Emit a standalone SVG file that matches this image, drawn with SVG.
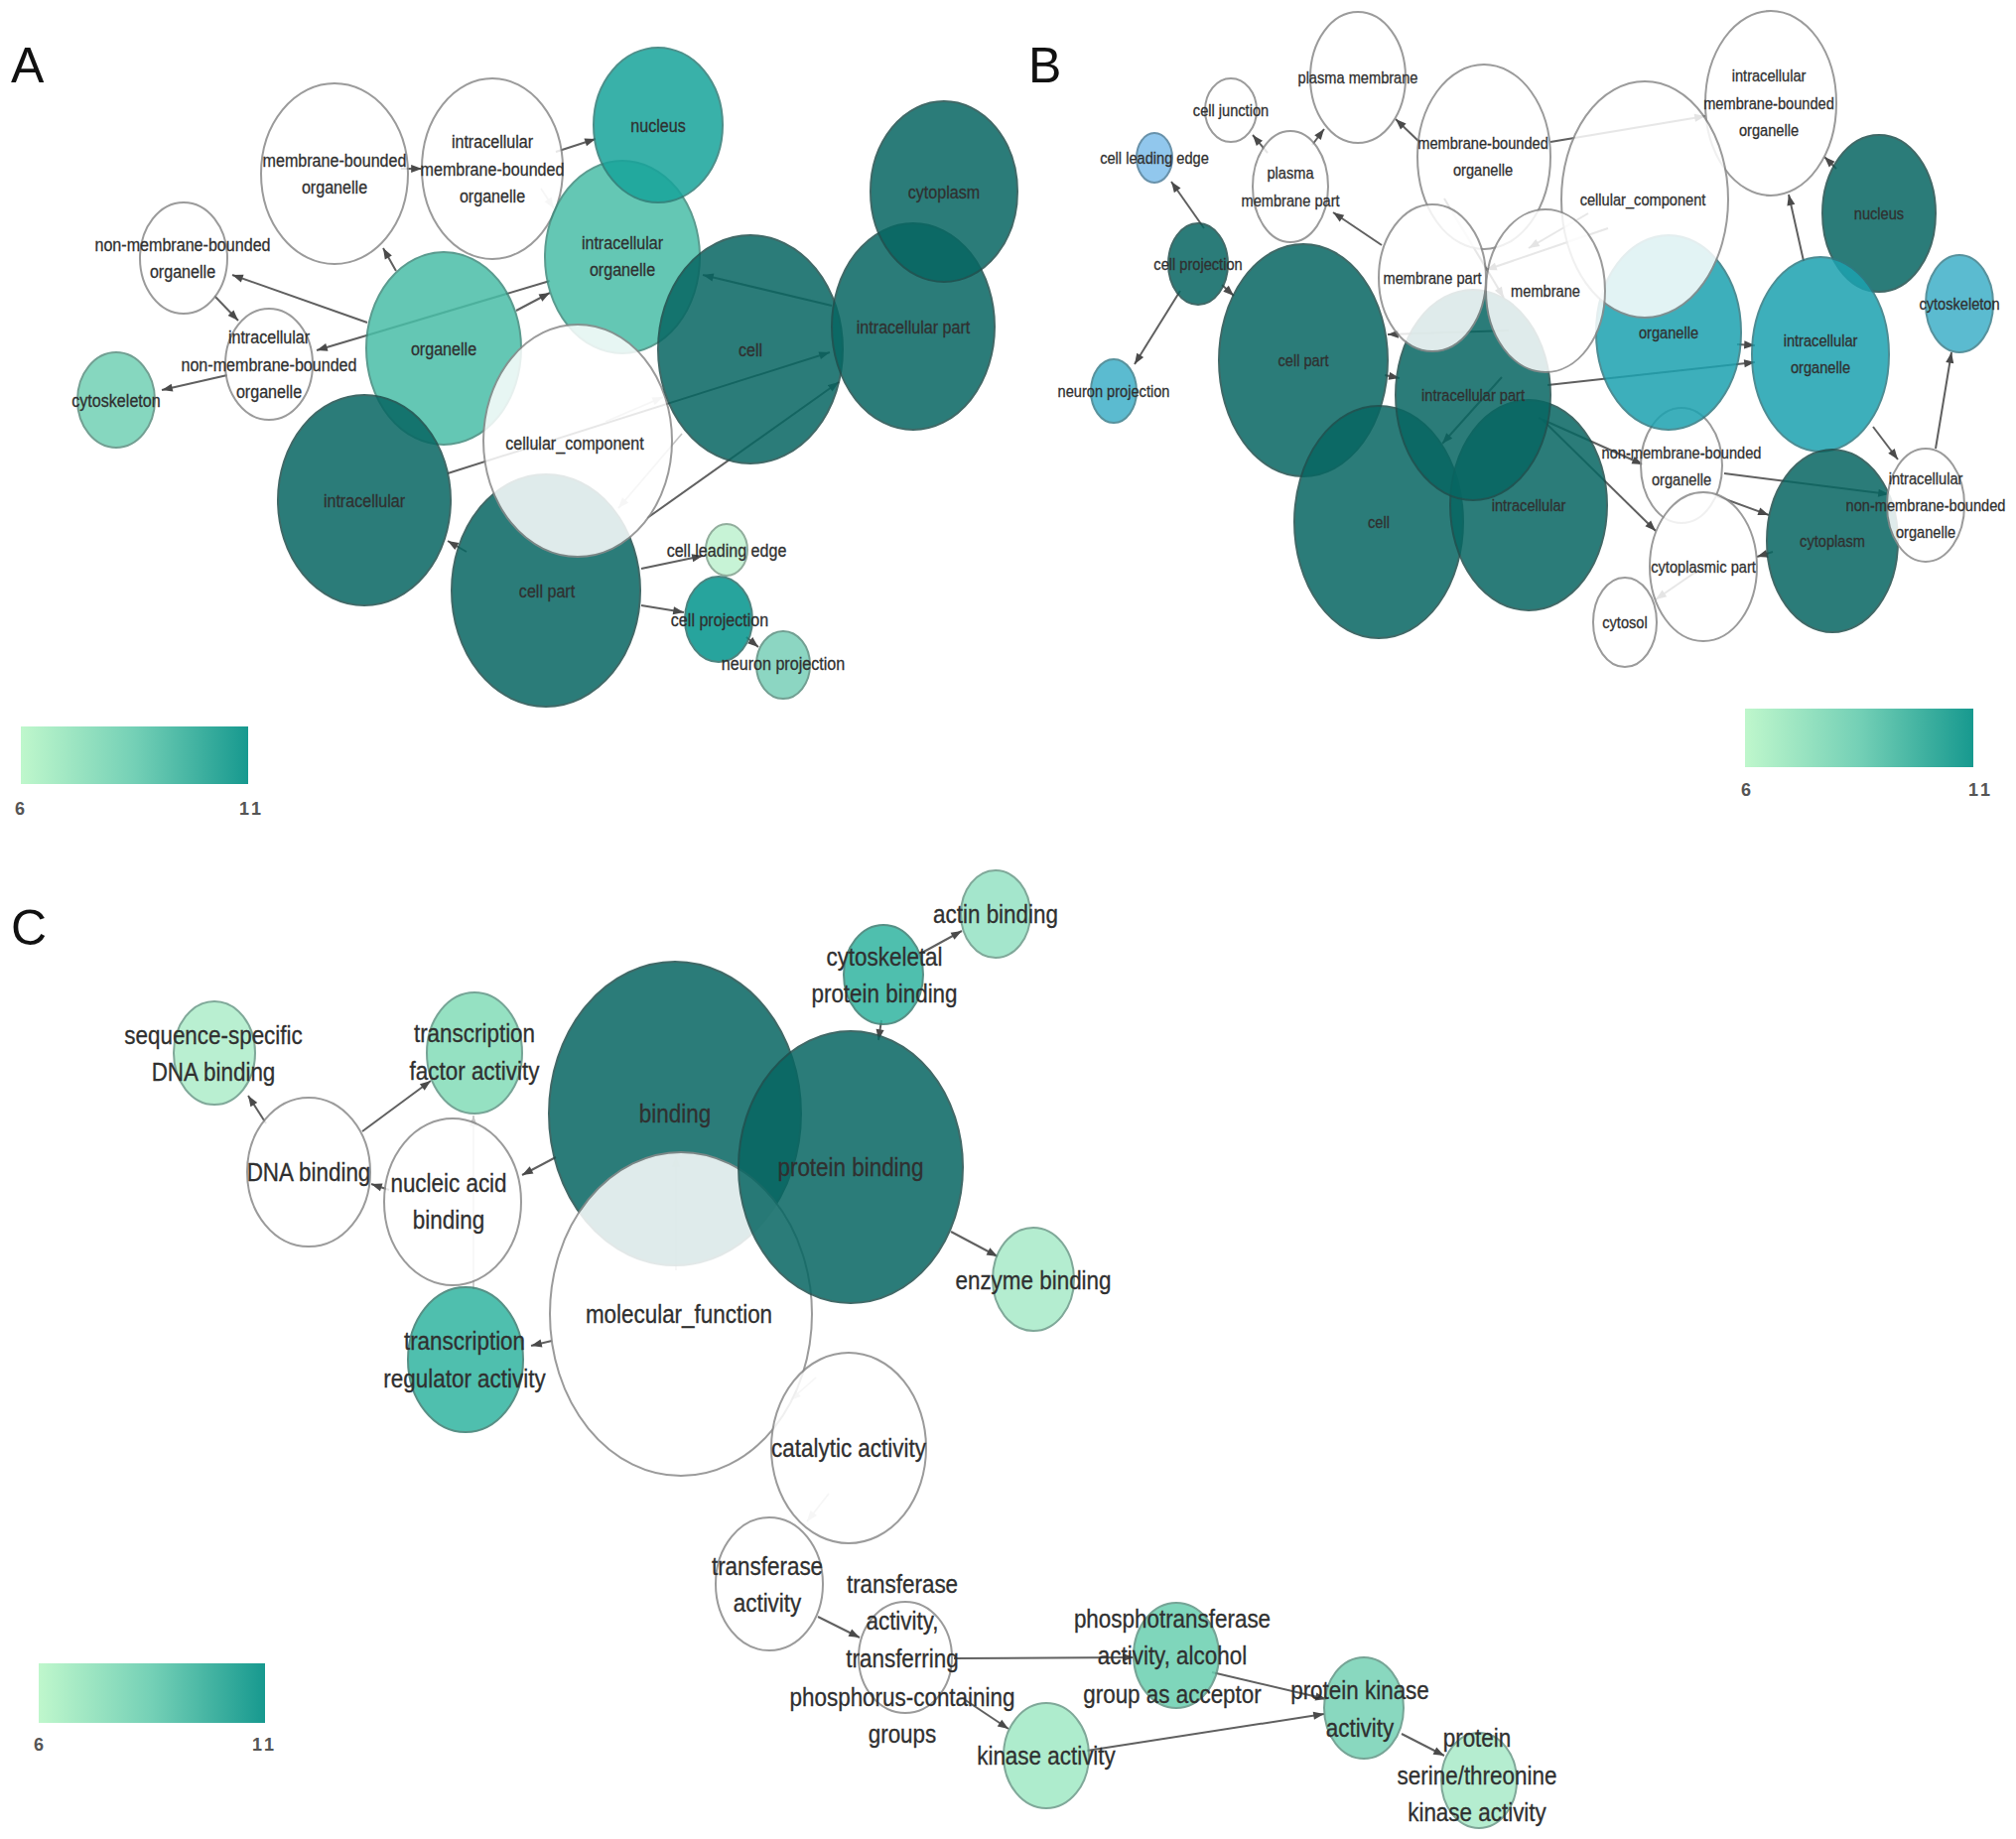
<svg xmlns="http://www.w3.org/2000/svg" width="2031" height="1853" viewBox="0 0 2031 1853">
<style>
text{font-family:"Liberation Sans",Arial,sans-serif;fill:#303030;stroke:#303030;stroke-width:0.3px;text-anchor:middle;transform-box:fill-box;transform-origin:center;}
.ta{font-size:18.5px;transform:scaleX(0.87);}
.tb{font-size:17px;transform:scaleX(0.86);}
.tc{font-size:25.5px;transform:scaleX(0.88);}
.pl{font-size:50px;fill:#111;stroke:none;text-anchor:start;}
.lg{font-size:18px;fill:#555;stroke:none;font-weight:bold;text-anchor:start;letter-spacing:3px;}
ellipse{opacity:0.85;stroke-width:2;}
.w{fill:#ffffff;stroke:#8a8a8a;}
.d{fill:#076662;stroke:#1f4f4d;}
.e{stroke:#606060;stroke-width:2;fill:none;marker-end:url(#ah);}
.f{stroke:#c4c4c4;stroke-width:1.6;fill:none;marker-end:url(#ahl);}
</style>
<defs>
<marker id="ah" viewBox="0 0 12 10" refX="12" refY="5" markerWidth="12" markerHeight="9" markerUnits="userSpaceOnUse" orient="auto"><path d="M0,0.5 L12,5 L0,9.5 z" fill="#4a4a4a"/></marker>
<marker id="ahl" viewBox="0 0 12 10" refX="12" refY="5" markerWidth="12" markerHeight="9" markerUnits="userSpaceOnUse" orient="auto"><path d="M0,0.5 L12,5 L0,9.5 z" fill="#c4c4c4"/></marker>
<linearGradient id="lgd" x1="0" y1="0" x2="1" y2="0"><stop offset="0" stop-color="#bff7cc"/><stop offset="0.5" stop-color="#74d0b6"/><stop offset="1" stop-color="#17998f"/></linearGradient>
</defs>
<rect width="2031" height="1853" fill="#ffffff"/>

<g id="connectors">
<!-- Panel A -->
<line class="e" x1="404" y1="170" x2="425" y2="170"/>
<line class="e" x1="560" y1="153" x2="600" y2="140"/>
<line class="f" x1="545" y1="190" x2="558" y2="210"/>
<line class="e" x1="399" y1="273" x2="386" y2="250"/>
<line class="e" x1="370" y1="325" x2="234" y2="277"/>
<line class="e" x1="216" y1="298" x2="240" y2="323"/>
<line class="e" x1="554" y1="283" x2="319" y2="353"/>
<line class="e" x1="520" y1="313" x2="554" y2="295"/>
<line class="e" x1="229" y1="378" x2="163" y2="393"/>
<line class="e" x1="838" y1="308" x2="708" y2="277"/>
<line class="e" x1="451" y1="477" x2="836" y2="355"/>
<line class="f" x1="610" y1="425" x2="668" y2="400"/>
<line class="e" x1="652" y1="522" x2="845" y2="385"/>
<line class="f" x1="687" y1="437" x2="623" y2="512"/>
<line class="e" x1="470" y1="556" x2="451" y2="545"/>
<line class="e" x1="646" y1="573" x2="708" y2="560"/>
<line class="e" x1="646" y1="610" x2="689" y2="617"/>
<line class="e" x1="752" y1="642" x2="764" y2="652"/>
<!-- Panel B -->
<line class="e" x1="1277" y1="154" x2="1262" y2="136"/>
<line class="e" x1="1322" y1="146" x2="1334" y2="130"/>
<line class="e" x1="1432" y1="145" x2="1406" y2="120"/>
<line class="e" x1="1392" y1="247" x2="1343" y2="214"/>
<line class="e" x1="1562" y1="143" x2="1718" y2="117"/>
<line class="e" x1="1213" y1="230" x2="1180" y2="183"/>
<line class="e" x1="1189" y1="293" x2="1143" y2="367"/>
<line class="e" x1="1231" y1="287" x2="1243" y2="298"/>
<line class="e" x1="1395" y1="378" x2="1410" y2="381"/>
<line class="e" x1="1850" y1="170" x2="1838" y2="158"/>
<line class="e" x1="1817" y1="263" x2="1802" y2="196"/>
<line class="e" x1="1750" y1="347" x2="1768" y2="348"/>
<line class="e" x1="1559" y1="388" x2="1768" y2="365"/>
<line class="e" x1="1950" y1="452" x2="1966" y2="355"/>
<line class="e" x1="1887" y1="430" x2="1912" y2="463"/>
<line class="e" x1="1550" y1="421" x2="1655" y2="468"/>
<line class="e" x1="1737" y1="477" x2="1903" y2="498"/>
<line class="e" x1="1554" y1="423" x2="1668" y2="535"/>
<line class="e" x1="1730" y1="500" x2="1782" y2="519"/>
<line class="e" x1="1786" y1="556" x2="1770" y2="561"/>
<line class="e" x1="1716" y1="571" x2="1668" y2="604"/>
<line class="e" x1="1513" y1="380" x2="1453" y2="447"/>
<line class="e" x1="1520" y1="333" x2="1398" y2="337"/>
<line class="e" x1="1620" y1="230" x2="1497" y2="272"/>
<line class="e" x1="1600" y1="215" x2="1540" y2="250"/>
<line class="e" x1="1455" y1="200" x2="1515" y2="300"/>
<!-- Panel C -->
<line class="e" x1="268" y1="1132" x2="250" y2="1104"/>
<line class="e" x1="365" y1="1140" x2="434" y2="1089"/>
<line class="e" x1="392" y1="1199" x2="374" y2="1193"/>
<line class="e" x1="560" y1="1166" x2="526" y2="1184"/>
<line class="f" x1="477" y1="1299" x2="477" y2="1124"/>
<line class="e" x1="556" y1="1351" x2="535" y2="1356"/>
<line class="e" x1="888" y1="1028" x2="885" y2="1048"/>
<line class="e" x1="927" y1="961" x2="969" y2="938"/>
<line class="e" x1="958" y1="1241" x2="1005" y2="1266"/>
<line class="f" x1="681" y1="1280" x2="681" y2="1165"/>
<line class="f" x1="822" y1="1388" x2="796" y2="1411"/>
<line class="f" x1="835" y1="1505" x2="813" y2="1533"/>
<line class="e" x1="824" y1="1629" x2="866" y2="1650"/>
<line class="e" x1="961" y1="1671" x2="1142" y2="1670"/>
<line class="e" x1="971" y1="1712" x2="1016" y2="1742"/>
<line class="e" x1="1221" y1="1685" x2="1336" y2="1712"/>
<line class="e" x1="1095" y1="1764" x2="1334" y2="1727"/>
<line class="e" x1="1412" y1="1747" x2="1455" y2="1769"/>
</g>

<!-- Panel A nodes -->
<g id="A-membrane-bounded-organelle"><ellipse class="w" cx="337" cy="175" rx="74" ry="91"/><text class="ta" x="337" y="168">membrane-bounded</text><text class="ta" x="337" y="195">organelle</text></g>
<g id="A-intracellular-membrane-bounded-organelle"><ellipse class="w" cx="496" cy="170" rx="71" ry="91"/><text class="ta" x="496" y="149">intracellular</text><text class="ta" x="496" y="177">membrane-bounded</text><text class="ta" x="496" y="204">organelle</text></g>
<g id="A-non-membrane-bounded-organelle"><ellipse class="w" cx="185" cy="260" rx="44" ry="56"/><text class="ta" x="184" y="253">non-membrane-bounded</text><text class="ta" x="184" y="280">organelle</text></g>
<g id="A-intracellular-non-membrane-bounded-organelle"><ellipse class="w" cx="271" cy="367" rx="44" ry="56"/><text class="ta" x="271" y="346">intracellular</text><text class="ta" x="271" y="374">non-membrane-bounded</text><text class="ta" x="271" y="401">organelle</text></g>
<g id="A-cytoskeleton"><ellipse cx="117" cy="403" rx="39" ry="48" fill="#72d1b5" stroke="#5a8f80"/><text class="ta" x="117" y="410">cytoskeleton</text></g>
<g id="A-organelle"><ellipse cx="447" cy="351" rx="78" ry="97" fill="#49bea7" stroke="#3f8a7c"/><text class="ta" x="447" y="358">organelle</text></g>
<g id="A-intracellular-organelle"><ellipse cx="627" cy="259" rx="78" ry="97" fill="#49bea7" stroke="#3f8a7c"/><text class="ta" x="627" y="251">intracellular</text><text class="ta" x="627" y="278">organelle</text></g>
<g id="A-nucleus"><ellipse cx="663" cy="126" rx="65" ry="78" fill="#17a49b" stroke="#2e7c76"/><text class="ta" x="663" y="133">nucleus</text></g>
<g id="A-intracellular"><ellipse class="d" cx="367" cy="504" rx="87" ry="106"/><text class="ta" x="367" y="511">intracellular</text></g>
<g id="A-cell-part"><ellipse class="d" cx="550" cy="595" rx="95" ry="117"/><text class="ta" x="551" y="602">cell part</text></g>
<g id="A-cellular_component"><ellipse class="w" cx="582" cy="444" rx="95" ry="117"/><text class="ta" x="579" y="453">cellular_component</text></g>
<g id="A-cell"><ellipse class="d" cx="756" cy="352" rx="93" ry="115"/><text class="ta" x="756" y="359">cell</text></g>
<g id="A-intracellular-part"><ellipse class="d" cx="920" cy="329" rx="82" ry="104"/><text class="ta" x="920" y="336">intracellular part</text></g>
<g id="A-cytoplasm"><ellipse class="d" cx="951" cy="193" rx="74" ry="91"/><text class="ta" x="951" y="200">cytoplasm</text></g>
<g id="A-cell-leading-edge"><ellipse cx="732" cy="554" rx="21" ry="26" fill="#bef1cf" stroke="#7fa08c"/><text class="ta" x="732" y="561">cell leading edge</text></g>
<g id="A-cell-projection"><ellipse cx="724" cy="624" rx="34" ry="43" fill="#02958d" stroke="#2d6f6a"/><text class="ta" x="725" y="631">cell projection</text></g>
<g id="A-neuron-projection"><ellipse cx="789" cy="670" rx="27" ry="34" fill="#78d0b8" stroke="#5a8f80"/><text class="ta" x="789" y="675">neuron projection</text></g>

<!-- Panel B nodes -->
<g id="B-plasma-membrane"><ellipse class="w" cx="1368" cy="78" rx="48" ry="66"/><text class="tb" x="1368" y="84">plasma membrane</text></g>
<g id="B-cell-junction"><ellipse class="w" cx="1240" cy="111" rx="26" ry="32"/><text class="tb" x="1240" y="117">cell junction</text></g>
<g id="B-plasma-membrane-part"><ellipse class="w" cx="1300" cy="188" rx="38" ry="56"/><text class="tb" x="1300" y="180">plasma</text><text class="tb" x="1300" y="208">membrane part</text></g>
<g id="B-membrane-bounded-organelle"><ellipse class="w" cx="1495" cy="158" rx="67" ry="93"/><text class="tb" x="1494" y="150">membrane-bounded</text><text class="tb" x="1494" y="177">organelle</text></g>
<g id="B-intracellular-membrane-bounded-organelle"><ellipse class="w" cx="1784" cy="104" rx="66" ry="93"/><text class="tb" x="1782" y="82">intracellular</text><text class="tb" x="1782" y="110">membrane-bounded</text><text class="tb" x="1782" y="137">organelle</text></g>
<g id="B-non-membrane-bounded-organelle"><ellipse class="w" cx="1694" cy="469" rx="41" ry="58"/><text class="tb" x="1694" y="462">non-membrane-bounded</text><text class="tb" x="1694" y="489">organelle</text></g>
<g id="B-cytosol"><ellipse class="w" cx="1637" cy="627" rx="32" ry="45"/><text class="tb" x="1637" y="633">cytosol</text></g>
<g id="B-cytoplasmic-part"><ellipse class="w" cx="1716" cy="571" rx="54" ry="75"/><text class="tb" x="1716" y="577">cytoplasmic part</text></g>
<g id="B-nucleus"><ellipse class="d" cx="1893" cy="215" rx="57" ry="79"/><text class="tb" x="1893" y="221">nucleus</text></g>
<g id="B-intracellular-organelle"><ellipse cx="1834" cy="357" rx="69" ry="98" fill="#1ca2b0" stroke="#2f7a82"/><text class="tb" x="1834" y="349">intracellular</text><text class="tb" x="1834" y="376">organelle</text></g>
<g id="B-organelle"><ellipse cx="1681" cy="335" rx="73" ry="98" fill="#1ca2b0" stroke="#2f7a82"/><text class="tb" x="1681" y="341">organelle</text></g>
<g id="B-cellular_component"><ellipse class="w" cx="1657" cy="201" rx="84" ry="119"/><text class="tb" x="1655" y="207">cellular_component</text></g>
<g id="B-cell-part"><ellipse class="d" cx="1313" cy="363" rx="85" ry="117"/><text class="tb" x="1313" y="369">cell part</text></g>
<g id="B-cell"><ellipse class="d" cx="1389" cy="526" rx="85" ry="117"/><text class="tb" x="1389" y="532">cell</text></g>
<g id="B-intracellular"><ellipse class="d" cx="1540" cy="509" rx="79" ry="106"/><text class="tb" x="1540" y="515">intracellular</text></g>
<g id="B-intracellular-part"><ellipse class="d" cx="1484" cy="398" rx="78" ry="106"/><text class="tb" x="1484" y="404">intracellular part</text></g>
<g id="B-membrane-part"><ellipse class="w" cx="1443" cy="280" rx="54" ry="74"/><text class="tb" x="1443" y="286">membrane part</text></g>
<g id="B-membrane"><ellipse class="w" cx="1557" cy="293" rx="60" ry="82"/><text class="tb" x="1557" y="299">membrane</text></g>
<g id="B-cytoplasm"><ellipse class="d" cx="1846" cy="545" rx="66" ry="92"/><text class="tb" x="1846" y="551">cytoplasm</text></g>
<g id="B-intracellular-non-membrane-bounded-organelle"><ellipse class="w" cx="1940" cy="509" rx="39" ry="57"/><text class="tb" x="1940" y="488">intracellular</text><text class="tb" x="1940" y="515">non-membrane-bounded</text><text class="tb" x="1940" y="542">organelle</text></g>
<g id="B-cytoskeleton"><ellipse cx="1974" cy="306" rx="34" ry="49" fill="#3fb0c8" stroke="#3c7f8c"/><text class="tb" x="1974" y="312">cytoskeleton</text></g>
<g id="B-cell-leading-edge"><ellipse cx="1163" cy="159" rx="18" ry="25" fill="#7ebeeb" stroke="#4f7f9c"/><text class="tb" x="1163" y="165">cell leading edge</text></g>
<g id="B-cell-projection"><ellipse class="d" cx="1207" cy="266" rx="30" ry="41"/><text class="tb" x="1207" y="272">cell projection</text></g>
<g id="B-neuron-projection"><ellipse cx="1122" cy="394" rx="23" ry="32" fill="#3fb0c8" stroke="#3c7f8c"/><text class="tb" x="1122" y="400">neuron projection</text></g>

<!-- Panel C nodes -->
<g id="C-sequence-specific-DNA-binding"><ellipse cx="216" cy="1061" rx="41" ry="52" fill="#adedca" stroke="#6a9a88"/><text class="tc" x="215" y="1052">sequence-specific</text><text class="tc" x="215" y="1089">DNA binding</text></g>
<g id="C-transcription-factor-activity"><ellipse cx="478" cy="1061" rx="48" ry="61" fill="#83dcb8" stroke="#5f9584"/><text class="tc" x="478" y="1050">transcription</text><text class="tc" x="478" y="1088">factor activity</text></g>
<g id="C-DNA-binding"><ellipse class="w" cx="311" cy="1181" rx="62" ry="75"/><text class="tc" x="311" y="1190">DNA binding</text></g>
<g id="C-nucleic-acid-binding"><ellipse class="w" cx="456" cy="1211" rx="69" ry="84"/><text class="tc" x="452" y="1201">nucleic acid</text><text class="tc" x="452" y="1238">binding</text></g>
<g id="C-binding"><ellipse class="d" cx="680" cy="1122" rx="127" ry="153"/><text class="tc" x="680" y="1131">binding</text></g>
<g id="C-molecular_function"><ellipse class="w" cx="686" cy="1324" rx="132" ry="163"/><text class="tc" x="684" y="1333">molecular_function</text></g>
<g id="C-transcription-regulator-activity"><ellipse cx="469" cy="1370" rx="58" ry="73" fill="#31b5a0" stroke="#3a7d71"/><text class="tc" x="468" y="1360">transcription</text><text class="tc" x="468" y="1398">regulator activity</text></g>
<g id="C-protein-binding"><ellipse class="d" cx="857" cy="1176" rx="113" ry="137"/><text class="tc" x="857" y="1185">protein binding</text></g>
<g id="C-cytoskeletal-protein-binding"><ellipse cx="890" cy="982" rx="40" ry="50" fill="#31b5a0" stroke="#3a7d71"/><text class="tc" x="891" y="973">cytoskeletal</text><text class="tc" x="891" y="1010">protein binding</text></g>
<g id="C-actin-binding"><ellipse cx="1003" cy="921" rx="35" ry="44" fill="#95e2c4" stroke="#6a9a88"/><text class="tc" x="1003" y="930">actin binding</text></g>
<g id="C-enzyme-binding"><ellipse cx="1041" cy="1289" rx="41" ry="52" fill="#a7ebc8" stroke="#6a9a88"/><text class="tc" x="1041" y="1299">enzyme binding</text></g>
<g id="C-catalytic-activity"><ellipse class="w" cx="855" cy="1459" rx="78" ry="96"/><text class="tc" x="855" y="1468">catalytic activity</text></g>
<g id="C-transferase-activity"><ellipse class="w" cx="775" cy="1596" rx="54" ry="67"/><text class="tc" x="773" y="1587">transferase</text><text class="tc" x="773" y="1624">activity</text></g>
<g id="C-transferase-activity-transferring-phosphorus-containing-groups"><ellipse class="w" cx="912" cy="1670" rx="47" ry="56"/><text class="tc" x="909" y="1605">transferase</text><text class="tc" x="909" y="1642">activity,</text><text class="tc" x="909" y="1680">transferring</text><text class="tc" x="909" y="1719">phosphorus-containing</text><text class="tc" x="909" y="1756">groups</text></g>
<g id="C-phosphotransferase-activity-alcohol-group-as-acceptor"><ellipse cx="1185" cy="1668" rx="43" ry="53" fill="#69cfb0" stroke="#5f9584"/><text class="tc" x="1181" y="1640">phosphotransferase</text><text class="tc" x="1181" y="1677">activity, alcohol</text><text class="tc" x="1181" y="1716">group as acceptor</text></g>
<g id="C-kinase-activity"><ellipse cx="1054" cy="1769" rx="43" ry="53" fill="#a1e9c5" stroke="#6a9a88"/><text class="tc" x="1054" y="1778">kinase activity</text></g>
<g id="C-protein-kinase-activity"><ellipse cx="1374" cy="1721" rx="40" ry="51" fill="#75d2b5" stroke="#5f9584"/><text class="tc" x="1370" y="1712">protein kinase</text><text class="tc" x="1370" y="1750">activity</text></g>
<g id="C-protein-serine-threonine-kinase-activity"><ellipse cx="1490" cy="1794" rx="38" ry="48" fill="#a9ebc8" stroke="#6a9a88"/><text class="tc" x="1488" y="1760">protein</text><text class="tc" x="1488" y="1798">serine/threonine</text><text class="tc" x="1488" y="1835">kinase activity</text></g>

<!-- Panel letters -->
<text class="pl" x="11" y="83">A</text>
<text class="pl" x="1036" y="83">B</text>
<text class="pl" x="11" y="952">C</text>

<!-- Legends -->
<g id="legend-A"><rect x="21" y="732" width="229" height="58" fill="url(#lgd)"/><text class="lg" x="15" y="821">6</text><text class="lg" x="241" y="821">11</text></g>
<g id="legend-B"><rect x="1758" y="714" width="230" height="59" fill="url(#lgd)"/><text class="lg" x="1754" y="802">6</text><text class="lg" x="1983" y="802">11</text></g>
<g id="legend-C"><rect x="39" y="1676" width="228" height="60" fill="url(#lgd)"/><text class="lg" x="34" y="1764">6</text><text class="lg" x="254" y="1764">11</text></g>
</svg>
